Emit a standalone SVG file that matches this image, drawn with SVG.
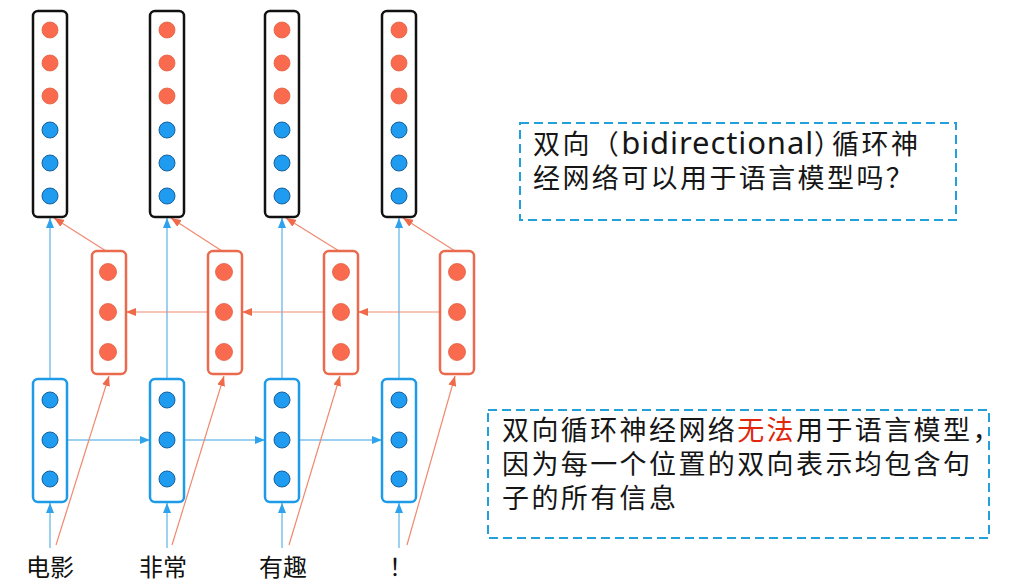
<svg xmlns="http://www.w3.org/2000/svg" width="1014" height="581" viewBox="0 0 1014 581">
<style>
.top{fill:#fff;stroke:#111;stroke-width:2.5}
.fwd{fill:#fff;stroke:#1f9ae6;stroke-width:2.5}
.bwd{fill:#fff;stroke:#ea6a4e;stroke-width:2.5}
.oc{fill:#fa6a4e;stroke:#e2603f;stroke-width:0.8}
.bc{fill:#1f9cf0;stroke:#17609e;stroke-width:1}
.bl{stroke:#7cc2ec;stroke-width:1.5;fill:none}
.ol{stroke:#f0896f;stroke-width:1.2;fill:none}
.lab{font-family:"Noto Sans CJK SC",sans-serif;font-size:24px;fill:#111}
.note{fill:#fff;stroke:#22a0da;stroke-width:2;stroke-dasharray:9 5}
.nt{font-family:"Noto Sans CJK SC",sans-serif;font-size:27px;letter-spacing:2.4px;fill:#161616}
.lat{font-family:"Noto Sans",sans-serif;font-size:31px;letter-spacing:0.9px}
.tight{letter-spacing:-9px}
.red{fill:#e2260e}
</style>
<defs>
<marker id="ab" viewBox="0 0 10 8" refX="10" refY="4" markerWidth="10" markerHeight="8" orient="auto" markerUnits="userSpaceOnUse"><path d="M0,0 L10,4 L0,8 z" fill="#2ea2ec"/></marker>
<marker id="ao" viewBox="0 0 10 8" refX="10" refY="4" markerWidth="10" markerHeight="8" orient="auto" markerUnits="userSpaceOnUse"><path d="M0,0 L10,4 L0,8 z" fill="#f06a4a"/></marker>
</defs>
<g id="connectors">
<line class="bl" x1="50" y1="548" x2="50" y2="503" marker-end="url(#ab)"/>
<line class="bl" x1="167" y1="548" x2="167" y2="503" marker-end="url(#ab)"/>
<line class="bl" x1="282" y1="548" x2="282" y2="503" marker-end="url(#ab)"/>
<line class="bl" x1="399" y1="548" x2="399" y2="503" marker-end="url(#ab)"/>
<line class="bl" x1="50" y1="379" x2="50" y2="218" marker-end="url(#ab)"/>
<line class="bl" x1="167" y1="379" x2="167" y2="218" marker-end="url(#ab)"/>
<line class="bl" x1="282" y1="379" x2="282" y2="218" marker-end="url(#ab)"/>
<line class="bl" x1="399" y1="379" x2="399" y2="218" marker-end="url(#ab)"/>
<line class="bl" x1="67" y1="440" x2="150" y2="440" marker-end="url(#ab)"/>
<line class="bl" x1="184" y1="440" x2="265" y2="440" marker-end="url(#ab)"/>
<line class="bl" x1="299" y1="440" x2="382" y2="440" marker-end="url(#ab)"/>
<line class="ol" x1="56" y1="545" x2="109" y2="376" marker-end="url(#ao)"/>
<line class="ol" x1="172" y1="545" x2="224" y2="376" marker-end="url(#ao)"/>
<line class="ol" x1="289" y1="545" x2="340" y2="376" marker-end="url(#ao)"/>
<line class="ol" x1="407" y1="545" x2="455" y2="376" marker-end="url(#ao)"/>
<line class="ol" x1="106" y1="251" x2="54" y2="218" marker-end="url(#ao)"/>
<line class="ol" x1="222" y1="251" x2="171" y2="218" marker-end="url(#ao)"/>
<line class="ol" x1="339" y1="251" x2="286" y2="218" marker-end="url(#ao)"/>
<line class="ol" x1="455" y1="251" x2="403" y2="218" marker-end="url(#ao)"/>
<line class="ol" x1="208" y1="312" x2="126" y2="312" marker-end="url(#ao)"/>
<line class="ol" x1="324" y1="312" x2="242" y2="312" marker-end="url(#ao)"/>
<line class="ol" x1="440" y1="312" x2="358" y2="312" marker-end="url(#ao)"/>
</g>
<g id="top-1"><rect class="top" x="33" y="11" width="34" height="206" rx="5"/><circle class="oc" cx="50" cy="30" r="8"/><circle class="oc" cx="50" cy="63" r="8"/><circle class="oc" cx="50" cy="96" r="8"/><circle class="bc" cx="50" cy="130" r="8"/><circle class="bc" cx="50" cy="163" r="8"/><circle class="bc" cx="50" cy="196" r="8"/></g>
<g id="top-2"><rect class="top" x="150" y="11" width="34" height="206" rx="5"/><circle class="oc" cx="167" cy="30" r="8"/><circle class="oc" cx="167" cy="63" r="8"/><circle class="oc" cx="167" cy="96" r="8"/><circle class="bc" cx="167" cy="130" r="8"/><circle class="bc" cx="167" cy="163" r="8"/><circle class="bc" cx="167" cy="196" r="8"/></g>
<g id="top-3"><rect class="top" x="265" y="11" width="34" height="206" rx="5"/><circle class="oc" cx="282" cy="30" r="8"/><circle class="oc" cx="282" cy="63" r="8"/><circle class="oc" cx="282" cy="96" r="8"/><circle class="bc" cx="282" cy="130" r="8"/><circle class="bc" cx="282" cy="163" r="8"/><circle class="bc" cx="282" cy="196" r="8"/></g>
<g id="top-4"><rect class="top" x="382" y="11" width="34" height="206" rx="5"/><circle class="oc" cx="399" cy="30" r="8"/><circle class="oc" cx="399" cy="63" r="8"/><circle class="oc" cx="399" cy="96" r="8"/><circle class="bc" cx="399" cy="130" r="8"/><circle class="bc" cx="399" cy="163" r="8"/><circle class="bc" cx="399" cy="196" r="8"/></g>
<g id="bwd-1"><rect class="bwd" x="92" y="251" width="34" height="123" rx="5"/><circle class="oc" cx="108" cy="272" r="8.5"/><circle class="oc" cx="108" cy="312" r="8.5"/><circle class="oc" cx="108" cy="352" r="8.5"/></g>
<g id="bwd-2"><rect class="bwd" x="208" y="251" width="34" height="123" rx="5"/><circle class="oc" cx="224" cy="272" r="8.5"/><circle class="oc" cx="224" cy="312" r="8.5"/><circle class="oc" cx="224" cy="352" r="8.5"/></g>
<g id="bwd-3"><rect class="bwd" x="324" y="251" width="34" height="123" rx="5"/><circle class="oc" cx="341" cy="272" r="8.5"/><circle class="oc" cx="341" cy="312" r="8.5"/><circle class="oc" cx="341" cy="352" r="8.5"/></g>
<g id="bwd-4"><rect class="bwd" x="440" y="251" width="34" height="123" rx="5"/><circle class="oc" cx="457" cy="272" r="8.5"/><circle class="oc" cx="457" cy="312" r="8.5"/><circle class="oc" cx="457" cy="352" r="8.5"/></g>
<g id="fwd-1"><rect class="fwd" x="33" y="379" width="34" height="123" rx="5"/><circle class="bc" cx="50" cy="400" r="8"/><circle class="bc" cx="50" cy="440" r="8"/><circle class="bc" cx="50" cy="479" r="8"/></g>
<g id="fwd-2"><rect class="fwd" x="150" y="379" width="34" height="123" rx="5"/><circle class="bc" cx="167" cy="400" r="8"/><circle class="bc" cx="167" cy="440" r="8"/><circle class="bc" cx="167" cy="479" r="8"/></g>
<g id="fwd-3"><rect class="fwd" x="265" y="379" width="34" height="123" rx="5"/><circle class="bc" cx="282" cy="400" r="8"/><circle class="bc" cx="282" cy="440" r="8"/><circle class="bc" cx="282" cy="479" r="8"/></g>
<g id="fwd-4"><rect class="fwd" x="382" y="379" width="34" height="123" rx="5"/><circle class="bc" cx="399" cy="400" r="8"/><circle class="bc" cx="399" cy="440" r="8"/><circle class="bc" cx="399" cy="479" r="8"/></g>
<g id="word-1"><text class="lab" x="50" y="576" text-anchor="middle">电影</text></g>
<g id="word-2"><text class="lab" x="163" y="576" text-anchor="middle">非常</text></g>
<g id="word-3"><text class="lab" x="283" y="576" text-anchor="middle">有趣</text></g>
<g id="word-4"><text class="lab" x="389" y="576">！</text></g>
<g id="note-1"><rect class="note" x="520" y="123" width="436" height="97"/>
<text class="nt" x="533" y="154">双向（<tspan class="lat">bidirectional</tspan><tspan class="tight">）</tspan>循环神</text>
<text class="nt" x="533" y="188">经网络可以用于语言模型吗？</text>
</g>
<g id="note-2"><rect class="note" x="488" y="410" width="501" height="128"/>
<text class="nt" x="502" y="440">双向循环神经网络<tspan class="red">无法</tspan>用于语言模型，</text>
<text class="nt" x="502" y="474">因为每一个位置的双向表示均包含句</text>
<text class="nt" x="502" y="508">子的所有信息</text>
</g>
</svg>
